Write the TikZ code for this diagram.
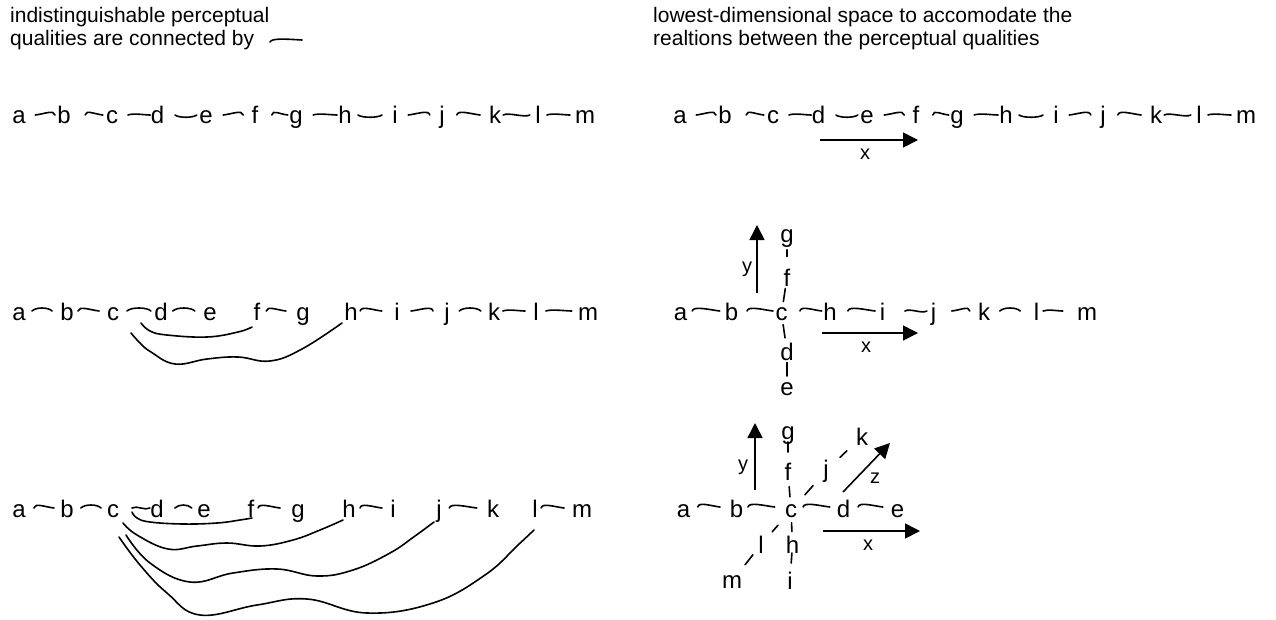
\documentclass[tikz,border=0pt]{standalone}
\usepackage{fontspec}
\setmainfont{Liberation Sans}
\usetikzlibrary{calc,arrows.meta}
\tikzset{
 lt/.style={font=\fontsize{24}{28}\selectfont, inner sep=0pt, anchor=base},
 hd/.style={font=\fontsize{21}{25}\selectfont, inner sep=0pt, anchor=base west},
 lb/.style={font=\fontsize{20}{24}\selectfont, inner sep=0pt, anchor=base},
 tl/.style={line width=1.6pt, line cap=round},
 cv/.style={line width=1.6pt, line cap=round},
 ax/.style={line width=1.6pt, -{Triangle[length=15pt,width=15pt]}},
}
\def\cvA{.. controls +(4pt,4pt) and +(-4pt,4pt) ..}
\def\cvR{.. controls +(1pt,5.5pt) and +(-9pt,1pt) ..}
\def\cvD{.. controls +(9pt,1pt) and +(-1pt,5.5pt) ..}
\def\cvS{.. controls +(4pt,-3pt) and +(-4pt,-3pt) ..}
\def\cvT{.. controls +(5pt,3pt) and +(-5pt,-3pt) ..}
\def\cvF{.. controls +(5pt,2pt) and +(-5pt,0pt) ..}
\def\cy{8}
\newcommand\cn[5]{\draw[tl] ($(#1.base)!#3!(#2.base)+(0,-\cy)$) #5 ($(#1.base)!#4!(#2.base)+(0,-\cy)$);}
\newcommand\tk[4]{\draw[tl] ($(#1.center)!#3!(#2.center)$) -- ($(#1.center)!#4!(#2.center)$);}
\begin{document}
\begin{tikzpicture}[x=1pt,y=-1pt]
\useasboundingbox (0,0) rectangle (1276,619);
% headers
\node[hd] (hl1) at (10,22) {indistinguishable perceptual};
\node[hd] (hl2) at (10,45) {qualities are connected by};
\node[hd] (hr1) at (653,22) {lowest-dimensional space to accomodate the};
\node[hd] (hr2) at (653,45) {realtions between the perceptual qualities};
\draw[tl] (270,42) .. controls (272,38) and (285,39) .. (302,40);
% ---------- row 1 left and right ----------
\foreach \n/\x in {a/19,b/64,c/112,d/157.5,e/206,f/255,g/296,h/345,i/395,j/442,k/495,l/538,m/585}{
  \node[lt] (p1\n) at (\x,123) {\n};
  \node[lt] (q1\n) at (\x+661,123) {\n};
}
\foreach \r in {p1,q1}{
 \cn{\r a}{\r b}{.36}{.8}{\cvD}
 \cn{\r b}{\r c}{.44}{.81}{\cvR}
 \cn{\r c}{\r d}{.35}{.84}{\cvF}
 \cn{\r d}{\r e}{.36}{.81}{\cvS}
 \cn{\r e}{\r f}{.35}{.76}{\cvD}
 \cn{\r f}{\r g}{.41}{.80}{\cvR}
 \cn{\r g}{\r h}{.35}{.84}{\cvF}
 \cn{\r h}{\r i}{.26}{.74}{\cvS}
 \cn{\r i}{\r j}{.28}{.74}{\cvD}
 \cn{\r j}{\r k}{.28}{.72}{\cvR}
 \cn{\r k}{\r l}{.19}{.81}{\cvT}
 \cn{\r l}{\r m}{.19}{.68}{\cvF}
}
\coordinate (x1s) at (820,140); \coordinate (x1e) at (918,140);
\draw[ax] (x1s) -- (x1e);
\node[lb] (x1) at (865,159) {x};
% ---------- row 2 left ----------
\def\cy{9}
\foreach \n/\x in {a/19,b/67,c/113,d/161,e/210,f/257,g/303,h/351,i/397,j/447,k/494,l/536,m/588}{
  \node[lt] (p2\n) at (\x,320) {\n};
}
\cn{p2a}{p2b}{.27}{.69}{\cvA}
\cn{p2b}{p2c}{.24}{.70}{\cvR}
\cn{p2c}{p2d}{.29}{.79}{\cvA}
\cn{p2d}{p2e}{.24}{.69}{\cvA}
\cn{p2f}{p2g}{.2}{.63}{\cvR}
\cn{p2h}{p2i}{.2}{.67}{\cvR}
\cn{p2i}{p2j}{.28}{.72}{\cvD}
\cn{p2j}{p2k}{.26}{.72}{\cvA}
\cn{p2k}{p2l}{.21}{.74}{\cvF}
\cn{p2l}{p2m}{.19}{.69}{\cvF}
\draw[cv] plot[smooth, tension=0.7] coordinates {(141,323) (150,331) (167,335) (207,337) (238,332) (252,327)};
\draw[cv] plot[smooth, tension=0.7] coordinates {(131,333) (140,343) (151,352) (175,364) (207,359) (238,357) (270,361) (302,349) (342,323)};
% ---------- row 3 left ----------
\foreach \n/\x in {a/19,b/67,c/113,d/157,e/204,f/251,g/298,h/349,i/393,j/439,k/493,l/535,m/582}{
  \node[lt] (p3\n) at (\x,517) {\n};
}
\cn{p3a}{p3b}{.31}{.73}{\cvR}
\cn{p3b}{p3c}{.30}{.74}{\cvA}
\cn{p3c}{p3d}{.43}{.84}{\cvT}
\cn{p3d}{p3e}{.38}{.74}{\cvA}
\cn{p3f}{p3g}{.15}{.62}{\cvR}
\cn{p3h}{p3i}{.25}{.75}{\cvR}
\cn{p3j}{p3k}{.19}{.70}{\cvR}
\cn{p3l}{p3m}{.13}{.62}{\cvR}
\draw[cv] plot[smooth, tension=0.7] coordinates {(132,512) (137,518) (150,522) (183,524) (217,523) (240,520) (252,518)};
\draw[cv] plot[smooth, tension=0.7] coordinates {(123,523) (137,535) (168,549) (197,546) (227,543) (260,546) (293,540) (320,530) (343,520)};
\draw[cv] plot[smooth, tension=0.7] coordinates {(126,535) (150,563) (190,582) (233,573) (277,569) (317,576) (353,570) (390,553) (415,536) (434,522)};
\draw[cv] plot[smooth, tension=0.7] coordinates {(119,537) (140,565) (167,593) (200,615) (257,605) (307,599) (367,613) (433,603) (485,575) (518,545) (534,530)};
% ---------- row 2 right ----------
\foreach \n/\x in {a/680.5,b/731.5,c/781.5,h/830,i/882.5,j/933.5,k/984,l/1036.5,m/1087}{
  \node[lt] (q2\n) at (\x,320) {\n};
}
\node[lt] (q2g) at (787,242) {g};
\node[lt] (q2f) at (787,286) {f};
\node[lt] (q2d) at (787,360) {d};
\node[lt] (q2e) at (787,395) {e};
\cn{q2a}{q2b}{.23}{.77}{\cvR}
\cn{q2b}{q2c}{.31}{.83}{\cvR}
\cn{q2c}{q2h}{.38}{.83}{\cvR}
\cn{q2h}{q2i}{.34}{.86}{\cvR}
\cn{q2i}{q2j}{.44}{.87}{\cvT}
\cn{q2j}{q2k}{.36}{.72}{\cvD}
\cn{q2k}{q2l}{.30}{.69}{\cvA}
\cn{q2l}{q2m}{.13}{.52}{\cvF}
\tk{q2g}{q2f}{.3}{.47}
\tk{q2f}{q2c}{.31}{.67}
\tk{q2c}{q2d}{.29}{.64}
\tk{q2d}{q2e}{.3}{.66}
\coordinate (y2s) at (757,293); \coordinate (y2e) at (757,225);
\draw[ax] (y2s) -- (y2e);
\node[lb] (y2) at (747,272) {y};
\coordinate (x2s) at (822,333); \coordinate (x2e) at (918,333);
\draw[ax] (x2s) -- (x2e);
\node[lb] (x2) at (866,352) {x};
% ---------- row 3 right ----------
\foreach \n/\x in {a/683.5,b/736.5,c/791,d/843.5,e/897.5}{
  \node[lt] (q3\n) at (\x,517) {\n};
}
\node[lt] (q3g) at (788,439) {g};
\node[lt] (q3f) at (788,480) {f};
\node[lt] (q3k) at (862,445) {k};
\node[lt] (q3j) at (826,477) {j};
\node[lt] (q3l) at (761,553) {l};
\node[lt] (q3h) at (792.5,553) {h};
\node[lt] (q3m) at (732,588) {m};
\node[lt] (q3i) at (790,589) {i};
\def\cy{10}
\cn{q3a}{q3b}{.27}{.69}{\cvR}
\cn{q3b}{q3c}{.21}{.70}{\cvR}
\cn{q3c}{q3d}{.23}{.74}{\cvR}
\cn{q3d}{q3e}{.27}{.73}{\cvR}
\tk{q3g}{q3f}{.19}{.47}
\tk{q3f}{q3c}{.39}{.65}
\tk{q3c}{q3h}{.36}{.62}
\tk{q3h}{q3i}{.24}{.52}
\tk{q3c}{q3j}{.4}{.63}
\tk{q3j}{q3k}{.39}{.58}
\tk{q3c}{q3l}{.43}{.63}
\tk{q3l}{q3m}{.28}{.55}
\coordinate (y3s) at (755,490); \coordinate (y3e) at (755,423);
\draw[ax] (y3s) -- (y3e);
\node[lb] (y3) at (743,470) {y};
\coordinate (z3s) at (843,492); \coordinate (z3e) at (890,443);
\draw[ax] (z3s) -- (z3e);
\node[lb] (z3) at (875,483) {z};
\coordinate (x3s) at (823,531); \coordinate (x3e) at (920,531);
\draw[ax] (x3s) -- (x3e);
\node[lb] (x3) at (868,550) {x};
\end{tikzpicture}
\end{document}
